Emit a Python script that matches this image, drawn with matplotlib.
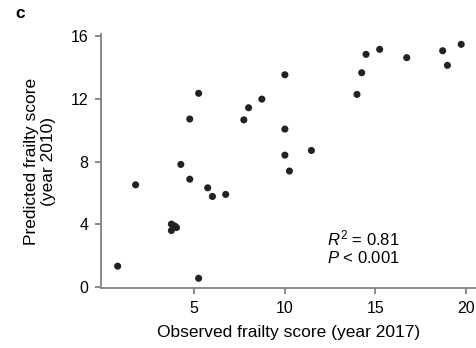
import matplotlib.pyplot as plt

plt.rcParams['font.family'] = ['Liberation Sans', 'DejaVu Sans']
plt.rcParams['mathtext.fontset'] = 'custom'
plt.rcParams['mathtext.rm'] = 'Liberation Sans'
plt.rcParams['mathtext.it'] = 'Liberation Sans:italic'

# observed (2017) vs predicted (2010) frailty scores
observed = [5.27, 4.78, 4.29, 7.76, 8.02, 8.75, 10.02, 10.02, 10.02, 11.48,
            10.27, 13.99, 14.25, 14.49, 15.24, 16.73, 18.71, 18.97, 19.73,
            4.78, 1.80, 5.77, 6.03, 6.76, 3.77, 3.77, 4.05, 3.95, 0.81, 5.27]
predicted = [12.35, 10.71, 7.82, 10.66, 11.43, 11.98, 13.53, 10.07, 8.41, 8.71,
             7.40, 12.28, 13.66, 14.83, 15.15, 14.62, 15.06, 14.13, 15.47,
             6.88, 6.52, 6.33, 5.78, 5.91, 4.02, 3.61, 3.80, 3.90, 1.34, 0.57]

xticks = [5, 10, 15, 20]
yticks = [0, 4, 8, 12, 16]

fig = plt.figure(figsize=(4.77, 3.48), dpi=100)
ax = fig.add_axes([0.212, 0.172, 0.788, 0.730])

ax.scatter(observed, predicted, s=26, color='#222222', edgecolors='none', zorder=3)

ax.set_xlim(-0.1, 20.6)
ax.set_ylim(-0.06, 16.12)
ax.set_xticks(xticks)
ax.set_yticks(yticks)

for side in ['top', 'right']:
    ax.spines[side].set_visible(False)
for side in ['left', 'bottom']:
    ax.spines[side].set_color('#808080')
    ax.spines[side].set_linewidth(1.3)
ax.tick_params(direction='out', length=4, width=1.3, color='#808080',
               labelsize=11.5)
ax.tick_params(axis='x', pad=5.5)
ax.tick_params(axis='y', pad=5)

ax.set_xlabel('Observed frailty score (year 2017)', fontsize=12.5, labelpad=6)
ax.set_ylabel('Predicted frailty score\n(year 2010)', fontsize=12.5, labelpad=11,
              linespacing=1.1)

ax.text(12.36, 2.55, '$R^2$ = 0.81\n$P$ < 0.001', fontsize=12, linespacing=1.15,
        va='center', ha='left')

fig.text(0.032, 0.96, 'c', fontsize=12.5, fontweight='bold', va='center')

fig.savefig('out.png', dpi=100)
